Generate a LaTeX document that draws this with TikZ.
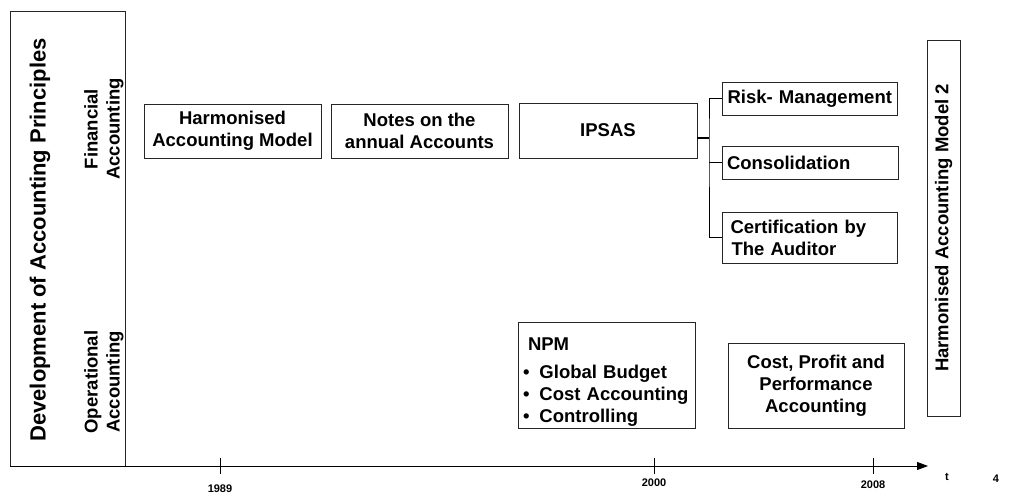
\documentclass[tikz,border=0pt]{standalone}
\usepackage{fontspec}
\setmainfont{Liberation Sans}
\usepackage{tikz}
\usetikzlibrary{arrows.meta}

\begin{document}
\begin{tikzpicture}[x=1pt,y=-1pt,line width=0.8pt,
  box/.style={draw=black!85,rectangle,inner sep=0pt,align=center,font=\bfseries\fontsize{18.5}{22}\selectfont},
  side/.style={box,align=left,inner xsep=5pt},
  lane/.style={rotate=90,align=center,font=\bfseries\fontsize{18.5}{22}\selectfont},
  year/.style={font=\bfseries\fontsize{11}{13}\selectfont}]

  \useasboundingbox (0,0) rectangle (1015,502);

  \node[draw=black!85,minimum width=115,minimum height=455] (frame) at (67.5,239) {};
  \node[lane,font=\bfseries\fontsize{22}{26}\selectfont] (title) at (40,240) {Development of Accounting Principles};
  \node[lane] (fin) at (104,129) {Financial\\Accounting};
  \node[lane] (ops) at (104,382) {Operational\\Accounting};

  \node[box,minimum width=177,minimum height=54] (ham) at (232.5,131) {Harmonised\\Accounting Model};
  \node[box,minimum width=177,minimum height=54] (notes) at (419.5,131) {Notes on the\\annual Accounts};
  \node[box,minimum width=178,minimum height=55] (ipsas) at (608,130.5) {IPSAS};

  \node[side,text width=165,minimum height=33] (risk) at (810,98.5) {Risk- Management};
  \node[side,text width=166,minimum height=33] (cons) at (810,162.5) {Consolidation};
  \node[side,text width=165,minimum height=51] (cert) at (810,237.5) {\hspace*{3pt}Certification by\\\hspace*{4pt}The Auditor};

  \node[side,text width=167,minimum height=106] (npm) at (606.5,375) {\rule{0pt}{26pt}\hspace*{5pt}NPM\\[6pt]
    \textbullet\hspace{10pt}Global Budget\\
    \textbullet\hspace{10pt}Cost Accounting\\
    \textbullet\hspace{10pt}Controlling};
  \node[box,minimum width=176,minimum height=85] (cpa) at (816,385.5) {Cost, Profit and\\Performance\\Accounting};
  \node[box,rotate=90,minimum width=376,minimum height=33] (ham2) at (943.5,228) {Harmonised Accounting Model 2};

  \coordinate (fork) at (709,138);
  \draw[line width=1.2pt] ([yshift=-7.5pt]ipsas.east) -- (fork);
  \draw (risk.west) -| (fork) |- (cert.west);
  \draw (cons.west) -- (fork |- cons.west);

  \coordinate (origin) at (10,466);
  \coordinate (tip) at (928,466);
  \draw[-{Triangle[length=11pt,width=8pt]}] (origin) -- (tip);
  \foreach \x/\yr/\dy in {220/1989/489,654/2000/483,873/2008/485}{
    \draw (\x,458) -- (\x,474);
    \node[year] (y\yr) at (\x,\dy) {\yr};
  }
  \node[year] (t) at (947,477) {t};
  \node[year] (page) at (996,479) {4};

\end{tikzpicture}
\end{document}
